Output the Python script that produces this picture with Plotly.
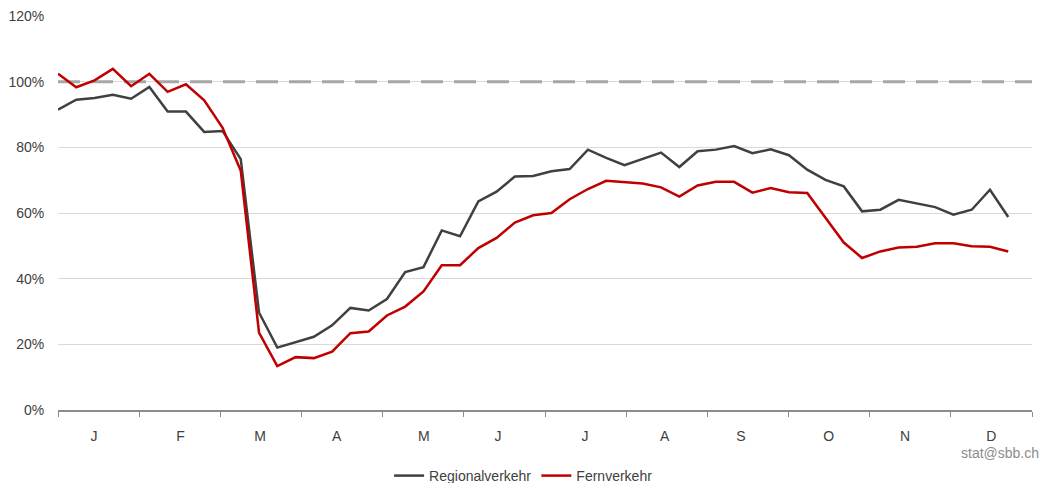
import plotly.graph_objects as go

# Weekly index values (% of previous year), weeks 1..53
weeks = list(range(1, 54))
regionalverkehr = [91.5, 94.5, 95.0, 96.0, 94.8, 98.4, 90.9, 90.9, 84.7, 85.0,
                   76.4, 29.7, 19.0, 20.6, 22.3, 25.8, 31.1, 30.3, 33.8, 42.0,
                   43.5, 54.7, 52.9, 63.5, 66.5, 71.1, 71.3, 72.7, 73.4, 79.3,
                   76.8, 74.6, 76.5, 78.4, 74.0, 78.8, 79.3, 80.4, 78.2, 79.4,
                   77.6, 73.2, 70.1, 68.1, 60.5, 61.0, 64.0, 62.9, 61.8, 59.5,
                   61.0, 67.1, 58.8]
fernverkehr = [102.4, 98.3, 100.4, 103.9, 98.6, 102.4, 96.9, 99.2, 94.3, 86.0,
               72.9, 23.6, 13.4, 16.1, 15.8, 17.8, 23.4, 23.9, 28.8, 31.5,
               36.1, 44.1, 44.1, 49.3, 52.4, 57.1, 59.3, 60.0, 64.2, 67.3,
               69.8, 69.3, 69.0, 67.8, 65.0, 68.4, 69.5, 69.5, 66.2, 67.6,
               66.3, 66.1, 58.4, 51.0, 46.3, 48.3, 49.5, 49.7, 50.8, 50.8,
               49.9, 49.7, 48.3]
months = ["J", "F", "M", "A", "M", "J", "J", "A", "S", "O", "N", "D"]
reference_level = 100

# layout helpers (positions only)
axis_len = 53.3          # week-units spanned by the 12 months
plot_px = 974            # plot-area width in pixels
label_nudge_px = [-4.6, 0.9, -0.9, -5.4, 0.7, -6.4, -0.6, -2.1, -7.0, -0.3, -5.3, -0.1]

x = [w - 1 for w in weeks]
month_w = axis_len / len(months)
boundaries = [k * month_w for k in range(len(months) + 1)]
label_pos = [(k + 0.5) * month_w + label_nudge_px[k] * axis_len / plot_px
             for k in range(len(months))]

fig = go.Figure()
fig.add_trace(go.Scatter(x=[0, axis_len], y=[reference_level, reference_level],
                         mode="lines", showlegend=False, hoverinfo="skip",
                         line=dict(color="#a6a6a6", width=3, dash="22px,11px")))
fig.add_trace(go.Scatter(x=x, y=regionalverkehr, mode="lines", name="Regionalverkehr",
                         line=dict(color="#404040", width=2.5)))
fig.add_trace(go.Scatter(x=x, y=fernverkehr, mode="lines", name="Fernverkehr",
                         line=dict(color="#c00000", width=2.5)))

fig.update_layout(
    width=1043, height=483,
    margin=dict(l=58, r=11, t=16, b=73, autoexpand=False),
    paper_bgcolor="white", plot_bgcolor="white",
    font=dict(family="Liberation Sans, Arial, sans-serif", size=14, color="#404040"),
    showlegend=True,
    legend=dict(orientation="h", xref="container", yref="paper",
                x=0.502, xanchor="center", y=-0.1675, yanchor="middle",
                font=dict(size=14, color="#404040"),
                traceorder="normal", bgcolor="rgba(0,0,0,0)"),
    xaxis=dict(range=[0, axis_len], showgrid=False, zeroline=False,
               showline=True, linecolor="#8c8c8c", linewidth=2,
               tickmode="array", tickvals=label_pos, ticktext=months,
               ticks="outside", ticklen=12, tickcolor="rgba(0,0,0,0)",
               tickfont=dict(size=14, color="#404040"),
               minor=dict(tickmode="array", tickvals=boundaries, ticks="outside",
                          ticklen=5, tickcolor="#8c8c8c", tickwidth=1, showgrid=False),
               fixedrange=True),
    yaxis=dict(range=[0, 120], dtick=20, ticksuffix="%", showgrid=True,
               gridcolor="#d9d9d9", gridwidth=1, zeroline=False,
               ticks="outside", ticklen=10, tickcolor="rgba(0,0,0,0)",
               tickfont=dict(size=14, color="#404040"), fixedrange=True),
)

fig.add_annotation(text="stat@sbb.ch", xref="paper", yref="paper",
                   x=1.009, y=-0.11, xanchor="right", yanchor="middle",
                   showarrow=False, font=dict(size=14, color="#8c8c8c"))

fig.write_html("out.html", config={"displayModeBar": False},
               post_script="document.body.style.margin='0px';document.body.style.overflow='hidden';")
